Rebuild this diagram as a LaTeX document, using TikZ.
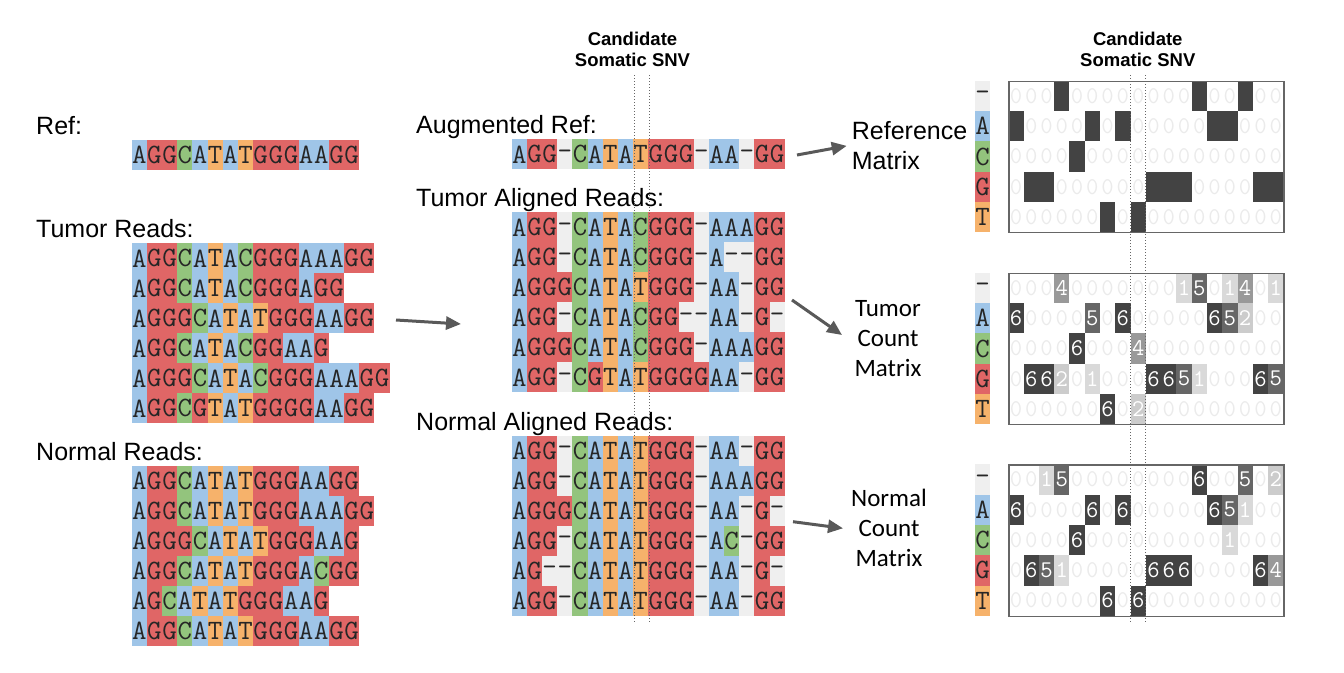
\documentclass[tikz,border=0pt]{standalone}
\usepackage{fontspec}
\setmainfont{Liberation Sans}
\newfontfamily\calfont{Carlito}
\usepackage{tikz}
\usetikzlibrary{arrows.meta,positioning,calc}
\usepackage{xcolor}

\definecolor{baseA}{HTML}{9FC5E8}
\definecolor{baseC}{HTML}{93C47D}
\definecolor{baseG}{HTML}{E06666}
\definecolor{baseT}{HTML}{F6B26B}
\definecolor{gapc}{HTML}{EFEFEF}
\definecolor{cntx}{HTML}{434343}
\definecolor{cnt6}{HTML}{434343}
\definecolor{cnt5}{HTML}{666666}
\definecolor{cnt4}{HTML}{999999}
\definecolor{cnt3}{HTML}{B7B7B7}
\definecolor{cnt2}{HTML}{CCCCCC}
\definecolor{cnt1}{HTML}{D9D9D9}
\definecolor{zerotxt}{HTML}{EBEBEB}
\definecolor{arrgray}{HTML}{595959}

% one row of bases, one row of counts
\newcount\bi
\def\cw{15.17}\def\rh{30}
\def\mw{15.28}\def\mh{30.3}
\newcommand\putbase[1]{%
  \if#1-\def\cc{gapc}\def\ct{\textendash}\else\def\cc{base#1}\def\ct{#1}\fi
  \fill[\cc] (\rx+\the\bi*\cw,\ry) rectangle ++(\cw,\rh);
  \node[basetxt] (\rowname-\the\bi) at (\rx+\the\bi*\cw+\cw/2,\ry+\rh/2) {\ct};}
\def\seqloop#1{\ifx#1\relax\else\putbase{#1}\global\advance\bi by 1 \expandafter\seqloop\fi}
\newcommand\seqrow[4]{\def\rowname{#1}\def\rx{#2}\def\ry{#3}\global\bi=0\relax
  \edef\seqtmp{#4}\expandafter\seqloop\seqtmp\relax}
\newcommand\putcount[1]{%
  \ifx#1x%
    \fill[cntx] (\rx+\the\bi*\mw,\ry) rectangle ++(\mw,\mh);
  \else\ifnum#1>0
    \fill[cnt#1] (\rx+\the\bi*\mw,\ry) rectangle ++(\mw,\mh);
    \node[cnttxt,text=white] (\rowname-\the\bi) at (\rx+\the\bi*\mw+\mw/2,\ry+\mh/2) {#1};
  \else
    \node[cnttxt,text=zerotxt] (\rowname-\the\bi) at (\rx+\the\bi*\mw+\mw/2,\ry+\mh/2) {0};
  \fi\fi}
\def\cntloop#1{\ifx#1\relax\else\putcount{#1}\global\advance\bi by 1 \expandafter\cntloop\fi}
\newcommand\cntrow[4]{\def\rowname{#1}\def\rx{#2}\def\ry{#3}\global\bi=0\relax
  \edef\seqtmp{#4}\expandafter\cntloop\seqtmp\relax}
\newcommand\basekey[2]{%
  \foreach \b/\c [count=\k from 0] in {\textendash/gapc,A/baseA,C/baseC,G/baseG,T/baseT}{
    \fill[\c] (975,#2+\k*\mh) rectangle ++(\cw,\mh);
    \node[basetxt] (#1\k) at (975+\cw/2,#2+\k*\mh+\mh/2) {\b};}}

\begin{document}
\begin{tikzpicture}[x=1pt,y=-1pt,
  basetxt/.style={inner sep=0,minimum width=15.17pt,minimum height=30pt,font=\fontsize{28}{28}\selectfont\ttfamily,text=black!85},
  cnttxt/.style={inner sep=0,minimum width=15.28pt,minimum height=30.3pt,font=\fontsize{24}{24}\selectfont\ttfamily},
  lab/.style={inner sep=0,anchor=base west,font=\fontsize{25}{30}\selectfont},
  snv/.style={inner sep=0,anchor=north,align=center,font=\fontsize{18.5}{21}\selectfont\bfseries},
  mlab/.style={inner sep=0,anchor=north,align=center,font=\calfont\fontsize{25}{30}\selectfont},
  matbox/.style={draw=black!60,line width=1.2pt,inner sep=0,minimum width=275pt,minimum height=151.5pt,anchor=north west},
  arr/.style={-{Triangle[length=15pt,width=13pt]},line width=3pt,draw=arrgray},
  snvline/.style={draw=black!60,line width=0.9pt,dash pattern=on 1pt off 2pt}
]
\useasboundingbox (0,0) rectangle (1344,672);

% raw reads
\node[lab] (reflab) at (36,134) {Ref:};
\seqrow{ref}{131.7}{140}{AGGCATATGGGAAGG}
\node[lab] (tumlab) at (36,237) {Tumor Reads:};
\foreach \s [count=\k from 0] in {AGGCATACGGGAAAGG,AGGCATACGGGAGG,AGGGCATATGGGAAGG,AGGCATACGGAAG,AGGGCATACGGGAAAGG,AGGCGTATGGGGAAGG}
  {\seqrow{tr\k}{131.7}{243.3+30*\k}{\s}}
\node[lab] (normlab) at (36,460) {Normal Reads:};
\foreach \s [count=\k from 0] in {AGGCATATGGGAAGG,AGGCATATGGGAAAGG,AGGGCATATGGGAAG,AGGCATATGGGACGG,AGCATATGGGAAG,AGGCATATGGGAAGG}
  {\seqrow{nr\k}{131.7}{466+30*\k}{\s}}

% aligned reads
\node[lab] (auglab) at (416,133) {Augmented Ref:};
\seqrow{aug}{511.7}{139.3}{AGG-CATATGGG-AA-GG}
\node[lab] (talab) at (416,206) {Tumor Aligned Reads:};
\foreach \s [count=\k from 0] in {AGG-CATACGGG-AAAGG,AGG-CATACGGG-A--GG,AGGGCATATGGG-AA-GG,AGG-CATACGG--AA-G-,AGGGCATACGGG-AAAGG,AGG-CGTATGGGGAA-GG}
  {\seqrow{ta\k}{511.7}{212.3+30*\k}{\s}}
\node[lab] (nalab) at (416,430) {Normal Aligned Reads:};
\foreach \s [count=\k from 0] in {AGG-CATATGGG-AA-GG,AGG-CATATGGG-AAAGG,AGGGCATATGGG-AA-G-,AGG-CATATGGG-AC-GG,AG--CATATGGG-AA-G-,AGG-CATATGGG-AA-GG}
  {\seqrow{na\k}{511.7}{435.7+30*\k}{\s}}

% matrices
\basekey{rk}{80.7}
\foreach \s [count=\k from 0] in {000x00000000x00x00,x0000x0x00000xx000,0000x0000000000000,0xx000000xxx0000xx,000000x0x000000000}
  {\cntrow{rm\k}{1008.3}{80.7+30.3*\k}{\s}}
\node[matbox] (refbox) at (1008.3,80.7) {};
\basekey{tk}{272.7}
\foreach \s [count=\k from 0] in {000400000001501401,600005060000065200,000060004000000000,066201000665100065,000000602000000000}
  {\cntrow{tm\k}{1008.3}{272.7+30.3*\k}{\s}}
\node[matbox] (tumbox) at (1008.3,272.7) {};
\basekey{nk}{464.3}
\foreach \s [count=\k from 0] in {001500000000600502,600006060000065100,000060000000001000,065100000666000064,000000606000000000}
  {\cntrow{nm\k}{1008.3}{464.3+30.3*\k}{\s}}
\node[matbox] (normbox) at (1008.3,464.3) {};

\node[snv] (snvmid) at (632.5,32) {Candidate\\Somatic SNV};
\node[snv] (snvright) at (1137.8,32) {Candidate\\Somatic SNV};
\draw[snvline] (634,75) -- (634,623);
\draw[snvline] (649.3,75) -- (649.3,623);
\draw[snvline] (1130.3,75) -- (1130.3,623);
\draw[snvline] (1145.6,75) -- (1145.6,623);

\node[inner sep=0,anchor=north west,align=left,font=\fontsize{25}{30}\selectfont] (refmlab) at (851.7,121.5) {Reference\\Matrix};
\node[mlab] (tummlab) at (888,300) {Tumor\\Count\\Matrix};
\node[mlab] (normmlab) at (889,489) {Normal\\Count\\Matrix};

\coordinate (readsout) at (396,320);
\coordinate (readsin) at (461,324);
\coordinate (augout) at (797,155);
\coordinate (tumout) at (792,300);
\coordinate (normout) at (793,521.7);
\draw[arr] (readsout) -- (readsin);
\draw[arr] (augout) -- ([xshift=-5pt]refmlab.west);
\draw[arr] (tumout) -- (842,335);
\draw[arr] (normout) -- (843,528.3);
\end{tikzpicture}
\end{document}
